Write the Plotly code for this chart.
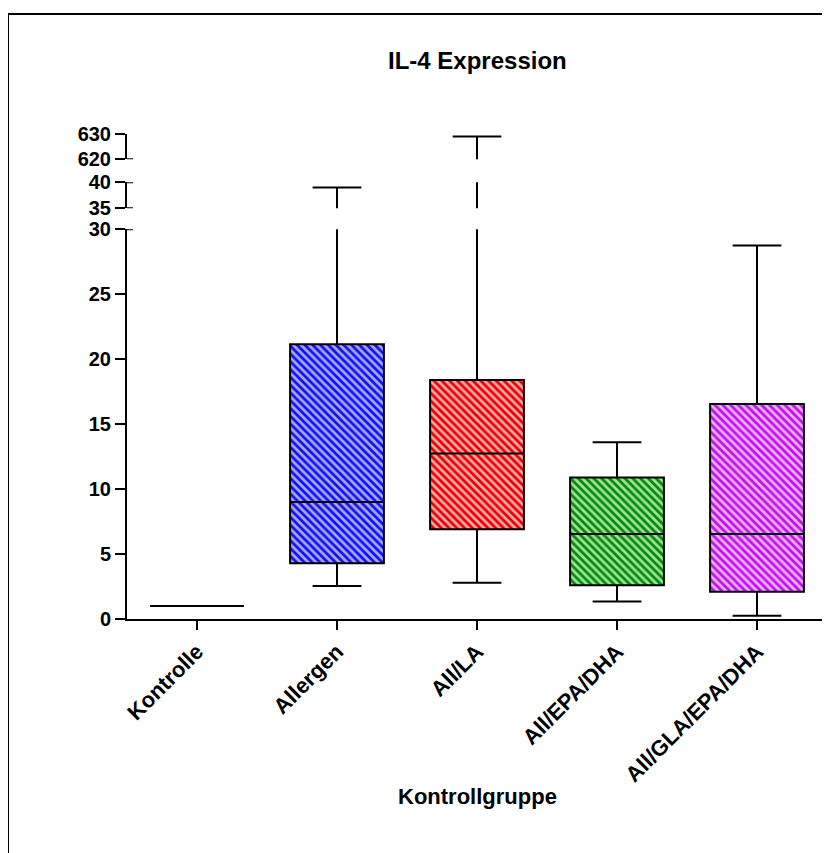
import plotly.graph_objects as go

# ---- data ----
categories = ["Kontrolle", "Allergen", "All/LA", "All/EPA/DHA", "All/GLA/EPA/DHA"]
q1 = [1.0, 4.3, 6.9, 2.6, 2.1]
median = [1.0, 9.0, 12.75, 6.55, 6.55]
q3 = [1.0, 21.15, 18.4, 10.9, 16.55]
lower = [1.0, 2.55, 2.8, 1.35, 0.25]
upper = [1.0, 39.0, 629.0, 13.6, 28.75]

fg_colors = ["#000000", "#1010f0", "#e80000", "#008a00", "#c010f0"]
bg_colors = ["#ffffff", "#a8a8ff", "#ffa8a8", "#a0e0a0", "#eeb0ff"]

seg_ranges = [[0, 30], [35, 40], [620, 630]]
seg_ticks = [[0, 5, 10, 15, 20, 25, 30], [35, 40], [620, 630]]

# ---- layout geometry (page body has an 8px margin) ----
OFF = 8
W, H = 830 - OFF, 853 - OFF
ML, MR, MT, MB = 127 - OFF, 3, 134 - OFF, 234
PW = W - ML - MR
PH = H - MT - MB


def frac(px_from_top):
    # px_from_top in screenshot coordinates
    return (H - MB - (px_from_top - OFF)) / PH


def xfrac(px):
    return (px - OFF - ML) / PW


domains = [[0, frac(229.3)], [frac(208.3), frac(182.3)], [frac(159.3), 1.0]]
axis_names = ["y", "y2", "y3"]

FONT = "Liberation Sans, Arial, sans-serif"

fig = go.Figure()

# hatched fills
for i, c in enumerate(categories):
    fig.add_trace(go.Bar(
        x=[c], y=[q3[i] - q1[i]], base=[q1[i]], width=0.67,
        xaxis="x", yaxis="y",
        marker=dict(color=bg_colors[i], line=dict(width=0),
                    pattern=dict(shape="\\", fgcolor=fg_colors[i], bgcolor=bg_colors[i],
                                 size=5.5, solidity=0.5, fillmode="replace")),
        hoverinfo="skip", showlegend=False,
    ))

# box outlines / whiskers on every axis segment
for ax in axis_names:
    for i, c in enumerate(categories):
        fig.add_trace(go.Box(
            x=[c], q1=[q1[i]], median=[median[i]], q3=[q3[i]],
            lowerfence=[lower[i]], upperfence=[upper[i]],
            xaxis="x", yaxis=ax, width=0.67, whiskerwidth=0.52,
            fillcolor="rgba(0,0,0,0)", line=dict(color="black", width=2),
            boxpoints=False, hoverinfo="skip", showlegend=False,
        ))

tickfont = dict(family=FONT, size=20, color="black", weight="bold")

layout = dict(
    width=W, height=H,
    margin=dict(l=ML, r=MR, t=MT, b=MB),
    paper_bgcolor="white", plot_bgcolor="white",
    barmode="overlay", boxmode="overlay",
    showlegend=False,
    xaxis=dict(
        type="category", categoryorder="array", categoryarray=categories,
        range=[-0.5, 4.5], showline=True, linecolor="black", linewidth=2,
        ticks="outside", ticklen=9, tickwidth=2, tickcolor="black",
        tickangle=-45, tickfont=dict(family=FONT, size=22, color="black", weight="bold"),
        showgrid=False, zeroline=False, anchor="y",
    ),
)
for k, ax in enumerate(axis_names):
    key = "yaxis" if k == 0 else f"yaxis{k + 1}"
    layout[key] = dict(
        domain=domains[k], range=seg_ranges[k], tickmode="array", tickvals=seg_ticks[k],
        showline=True, linecolor="black", linewidth=2,
        ticks="outside", ticklen=10, tickwidth=2, tickcolor="black",
        tickfont=tickfont, showgrid=False, zeroline=False, anchor="x",
    )

fig.update_layout(**layout)

# broken-axis bracket extensions
ext = 6 / PW
for yref, yv in [("y", 30), ("y2", 35), ("y2", 40), ("y3", 620)]:
    fig.add_shape(type="line", xref="paper", yref=yref, x0=0, x1=ext, y0=yv, y1=yv,
                  line=dict(color="black", width=2))

# frame
fig.add_shape(type="rect", xref="paper", yref="paper",
              x0=xfrac(8), x1=1.2, y0=-1.0, y1=frac(14),
              line=dict(color="black", width=2), fillcolor="rgba(0,0,0,0)", layer="above")

fig.add_annotation(text="IL-4 Expression", xref="paper", yref="paper", x=0.5, y=frac(60),
                   xanchor="center", yanchor="middle",
                   showarrow=False, font=dict(family=FONT, size=24, color="black", weight="bold"))
fig.add_annotation(text="Kontrollgruppe", xref="paper", yref="paper", x=0.5, y=frac(796),
                   xanchor="center", yanchor="middle",
                   showarrow=False, font=dict(family=FONT, size=22, color="black", weight="bold"))

fig.write_html("out.html")
